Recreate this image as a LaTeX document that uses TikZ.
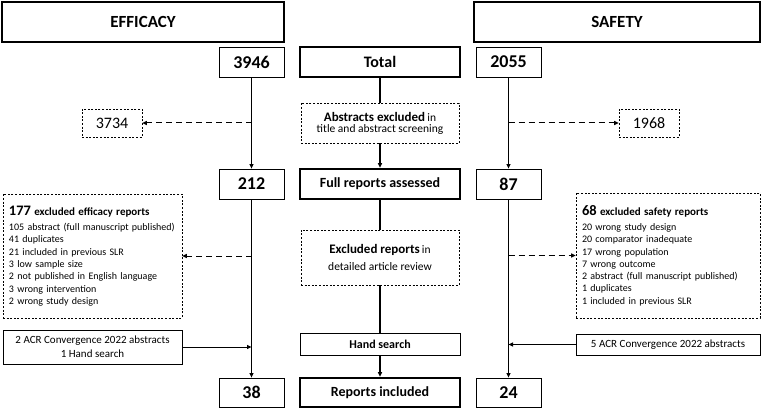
\documentclass[tikz,border=0pt]{standalone}
\usepackage{fontspec}
\setmainfont{Carlito}
\usetikzlibrary{arrows.meta}
\begin{document}
\begin{tikzpicture}[x=1pt,y=-1pt,
  box/.style={draw, line width=0.8pt, inner sep=0pt, align=center},
  numbox/.style={box, minimum width=65pt, font=\fontsize{18}{20}\selectfont\bfseries},
  thickbox/.style={box, line width=2.6pt, minimum width=160pt},
  headbox/.style={box, line width=1.8pt, minimum height=40pt, font=\fontsize{17}{18}\selectfont\bfseries},
  dotbox/.style={draw, line width=0.6pt, dash pattern=on 2pt off 1.6pt, inner sep=0pt, align=center},
  listbox/.style={dotbox, align=left, inner xsep=6pt, font=\fontsize{10}{12.3}\selectfont},
  arr/.style={line width=1pt, -{Triangle[length=4.5pt,width=4pt]}},
  carr/.style={line width=1.6pt, -{Triangle[length=4.5pt,width=4pt]}},
  cline/.style={line width=1.6pt},
  darr/.style={line width=1pt, dash pattern=on 6pt off 4pt, -{Triangle[length=4.5pt,width=4pt]}}
]
\useasboundingbox (0,0) rectangle (763,409);

% headers
\node[headbox, minimum width=282pt] (eff) at (143,22) {EFFICACY};
\node[headbox, minimum width=286pt] (saf) at (617,22) {SAFETY};

% row 1
\node[numbox, minimum height=30pt] (n3946) at (251.5,62) {3946};
\node[thickbox, minimum height=30pt, font=\fontsize{16}{18}\selectfont\bfseries] (total) at (380,62) {Total};
\node[numbox, minimum height=30pt] (n2055) at (508.5,62) {2055};

% abstract screening
\node[dotbox, minimum width=158pt, minimum height=40pt] (abs) at (380,123)
  {{\fontsize{13}{15}\selectfont\bfseries Abstracts excluded} {\fontsize{11.5}{15}\selectfont in}\\[-1pt]
   {\fontsize{11.5}{14}\selectfont title and abstract screening}};
\node[dotbox, minimum width=60pt, minimum height=28pt, font=\fontsize{16}{18}\selectfont] (n3734) at (112,123) {3734};
\node[dotbox, minimum width=60pt, minimum height=28pt, font=\fontsize{16}{18}\selectfont] (n1968) at (649,123) {1968};

% row 2
\node[numbox, minimum height=30pt] (n212) at (251.5,184) {212};
\node[thickbox, minimum height=30pt, font=\fontsize{14}{16}\selectfont\bfseries] (full) at (380,184) {Full reports assessed};
\node[numbox, minimum height=30pt] (n87) at (508.5,184) {87};

% exclusion lists
\node[listbox, minimum width=179pt, minimum height=124pt, text width=167pt] (ex177) at (92.5,256)
  {{\fontsize{14.5}{16}\selectfont\bfseries 177} {\fontsize{11}{13}\selectfont\bfseries excluded efficacy reports}\\[3pt]
   105 abstract (full manuscript published)\\
   41 duplicates\\
   21 included in previous SLR\\
   3 low sample size\\
   2 not published in English language\\
   3 wrong intervention\\
   2 wrong study design};
\node[listbox, minimum width=184pt, minimum height=125pt, text width=172pt] (ex68) at (668,255.5)
  {{\fontsize{14.5}{16}\selectfont\bfseries 68} {\fontsize{11}{13}\selectfont\bfseries excluded safety reports}\\[3pt]
   20 wrong study design\\
   20 comparator inadequate\\
   17 wrong population\\
   7 wrong outcome\\
   2 abstract (full manuscript published)\\
   1 duplicates\\
   1 included in previous SLR};
\node[dotbox, minimum width=158pt, minimum height=55pt] (exrep) at (380,257.5)
  {{\fontsize{13}{15}\selectfont\bfseries Excluded reports} {\fontsize{11.5}{15}\selectfont in}\\[5pt]
   {\fontsize{11.5}{14}\selectfont detailed article review}};

% additions
\node[box, minimum width=179pt, minimum height=34pt, font=\fontsize{11}{14}\selectfont] (acr2) at (92.5,347)
  {2 ACR Convergence 2022 abstracts\\1 Hand search};
\node[box, minimum width=160pt, minimum height=22pt, font=\fontsize{12}{14}\selectfont\bfseries] (hand) at (380,344) {Hand search};
\node[box, minimum width=184pt, minimum height=21pt, font=\fontsize{11}{14}\selectfont] (acr5) at (668,344.5)
  {5 ACR Convergence 2022 abstracts};

% row 3
\node[numbox, minimum height=29pt] (n38) at (251.5,392.5) {38};
\node[thickbox, minimum height=29pt, font=\fontsize{14}{16}\selectfont\bfseries] (incl) at (380,392.5) {Reports included};
\node[numbox, minimum height=29pt] (n24) at (508.5,392.5) {24};

% connectors left
\draw[arr] (n3946) -- (n212);
\draw[darr] (n3946.center |- n3734.east) -- (n3734.east);
\draw[arr] (n212) -- (n38);
\draw[darr] (n212.center |- ex177.east) -- (ex177.east);
\draw[arr] (acr2.east) -- (acr2.east -| n212.center);

% connectors right
\draw[arr] (n2055) -- (n87);
\draw[darr] (n2055.center |- n1968.west) -- (n1968.west);
\draw[arr] (n87) -- (n24);
\draw[darr] (n87.center |- ex68.west) -- (ex68.west);
\draw[arr] (acr5.west) -- (acr5.west -| n87.center);

% connectors centre
\draw[cline] (total) -- (abs);
\draw[carr] (abs) -- (full);
\draw[cline] (full) -- (exrep);
\draw[cline] (exrep) -- (hand);
\draw[carr] (hand) -- (incl);
\end{tikzpicture}
\end{document}
